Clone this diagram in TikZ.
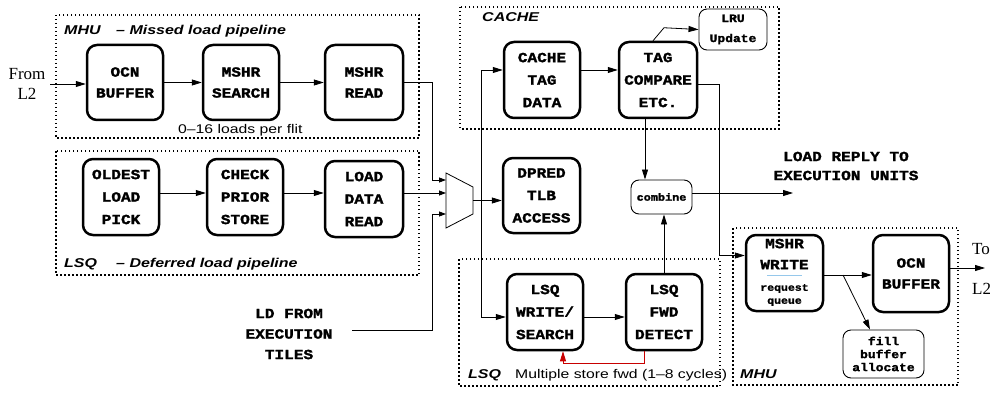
\documentclass[tikz,border=0pt]{standalone}
\usepackage{fontspec}
\setmainfont{Liberation Serif}
\newfontfamily\monob[FakeStretch=1.15,FakeBold=1.8]{Liberation Mono}
\newfontfamily\hsans[FakeStretch=1.25]{Liberation Sans}
\usetikzlibrary{arrows.meta}
\definecolor{fbred}{RGB}{200,0,0}
\definecolor{rulecol}{RGB}{150,200,235}
\begin{document}
\begin{tikzpicture}[x=1pt,y=-1pt,
  conn/.style={line width=0.8pt,-{Triangle[length=10pt,width=6pt]}},
  sconn/.style={line width=0.8pt,-{Triangle[length=7pt,width=5pt]}},
  bigbox/.style={draw,line width=2.5pt,rounded corners=10pt,minimum width=76pt,minimum height=75pt,inner sep=0pt,align=center},
  two/.style={font=\monob\bfseries\fontsize{14}{21}\selectfont,align=center},
  three/.style={font=\monob\bfseries\fontsize{14}{22.5}\selectfont,align=center},
  thinbox/.style={draw,line width=0.9pt,rounded corners=8pt,inner sep=0pt,align=center},
  dotbox/.style={draw,line width=1.5pt,dash pattern=on 1.5pt off 2.5pt},
  titletxt/.style={font=\hsans\bfseries\itshape\fontsize{12.8}{15}\selectfont,anchor=base west,inner sep=0pt},
  notetxt/.style={font=\hsans\fontsize{12.6}{15}\selectfont,anchor=base west,inner sep=0pt},
]
\useasboundingbox (0,0) rectangle (990,393);

% dotted frames
\draw[dotbox] (56,15) rectangle (419,138);
\draw[dotbox] (56,151) rectangle (419,275);
\draw[dotbox] (460,7) rectangle (779,129);
\draw[dotbox] (459,259) rectangle (720,386);
\draw[dotbox] (733,228) rectangle (958,385);

% titles and notes
\node[titletxt] (t1a) at (64,35) {MHU};
\node[titletxt] (t1b) at (116,35) {– Missed load pipeline};
\node[notetxt] (flit) at (178,133) {0–16 loads per flit};
\node[titletxt] (t2a) at (64,267) {LSQ};
\node[titletxt] (t2b) at (116,267) {– Deferred load pipeline};
\node[titletxt] (t3) at (482,22) {CACHE};
\node[titletxt] (t4) at (468,378) {LSQ};
\node[notetxt] (t4b) at (515,378) {Multiple store fwd (1–8 cycles)};
\node[titletxt] (t5) at (740,378) {MHU};

% big boxes
\node[bigbox,two] (ocn1) at (125,82.5) {OCN\\BUFFER};
\node[bigbox,two] (mshrs) at (241,82.5) {MSHR\\SEARCH};
\node[bigbox,two,minimum width=78pt] (mshrr) at (364,82.5) {MSHR\\READ};
\node[bigbox,three,minimum height=76pt] (oldest) at (121,197) {OLDEST\\LOAD\\PICK};
\node[bigbox,three,minimum height=76pt] (check) at (245,197) {CHECK\\PRIOR\\STORE};
\node[bigbox,three,minimum height=76pt,minimum width=78pt] (ldr) at (364,199) {LOAD\\DATA\\READ};
\node[bigbox,three,minimum height=76pt] (ctd) at (542,80) {CACHE\\TAG\\DATA};
\node[bigbox,three,minimum height=76pt,minimum width=78pt] (tagc) at (658,80) {TAG\\COMPARE\\ETC.};
\node[bigbox,three,minimum width=77pt] (dpred) at (541.5,195.5) {DPRED\\TLB\\ACCESS};
\node[bigbox,three,minimum height=76pt] (lsqw) at (545,312) {LSQ\\WRITE/\\SEARCH};
\node[bigbox,three,minimum height=76pt] (lsqf) at (664,312) {LSQ\\FWD\\DETECT};
\node[bigbox,minimum width=77pt,minimum height=76pt] (mshrw) at (784.5,273) {};
\node[two,inner sep=0pt] (mshrwt) at (784.5,254) {MSHR\\WRITE};
\draw[line width=1pt,rulecol] (767,275) -- (802,275);
\node[font=\monob\bfseries\fontsize{10}{13}\selectfont,align=center,inner sep=0pt] (rq) at (784.5,295) {request\\queue};
\node[bigbox,two,minimum height=77pt] (ocn2) at (911,273.5) {OCN\\BUFFER};

% thin boxes
\node[thinbox,minimum width=68pt,minimum height=41pt,font=\monob\bfseries\fontsize{11.3}{20}\selectfont] (lru) at (733,29.5) {LRU\\Update};
\node[thinbox,minimum width=61pt,minimum height=34pt,font=\monob\bfseries\fontsize{10.3}{12}\selectfont] (comb) at (661.5,197) {combine};
\node[thinbox,minimum width=81pt,minimum height=48pt,font=\monob\bfseries\fontsize{11.3}{13}\selectfont] (fill) at (883.5,354) {fill\\buffer\\allocate};

% free texts
\node[font=\fontsize{17}{19.5}\selectfont,align=center,inner sep=0pt] (froml2) at (27,84) {From\\L2};
\node[font=\fontsize{17}{40}\selectfont,align=left,anchor=west,inner sep=0pt] (tol2) at (972,269) {To\\L2};
\node[font=\monob\bfseries\fontsize{14}{20.5}\selectfont,align=center,inner sep=0pt] (ldtxt) at (289,334) {LD FROM\\EXECUTION\\TILES};
\node[font=\monob\bfseries\fontsize{14}{19}\selectfont,align=center,inner sep=0pt] (reply) at (846,166) {LOAD REPLY TO\\EXECUTION UNITS};

% mux
\draw[line width=0.8pt] (446,173) -- (473,187) -- (473,214) -- (446,228) -- cycle;
\coordinate (mux1) at (446,180);
\coordinate (mux2) at (446,193);
\coordinate (mux3) at (446,214);
\coordinate (muxout) at (473,200.5);
\coordinate (br) at (481,200.5);

% connectors
\coordinate (l2in) at (50,84);
\draw[conn] (l2in) -- (ocn1.west |- l2in);
\draw[conn] (ocn1.east) -- (mshrs.west);
\draw[conn] (mshrs.east) -- (mshrr.west);
\draw[sconn] (mshrr.east) -| (432,180) -- (mux1);
\draw[conn] (oldest.east |- 0,193) -- (check.west |- 0,193);
\draw[conn] (check.east |- 0,193) -- (ldr.west |- 0,193);
\draw[sconn] (ldr.east |- mux2) -- (mux2);
\coordinate (ldout) at (352,330);
\draw[sconn] (ldout) -| (432,214) -- (mux3);
\draw[conn] (muxout) -- (dpred.west |- muxout);
\draw[conn] (br) |- (ctd.west |- 0,70);
\draw[conn] (br) |- (lsqw.west |- 0,317);
\draw[conn] (ctd.east |- 0,70) -- (tagc.west |- 0,70);
\draw[conn] ([xshift=-5pt]tagc.north) -- ++(11,-13) -- (lru.west);
\draw[conn] (tagc.south -| 645,0) -- (comb.north -| 645,0);
\draw[conn] (tagc.east |- 0,84) -| (719,255.5) -- (mshrw.west |- 0,255.5);
\coordinate (replyend) at (793,193);
\draw[conn] (comb.east |- replyend) -- (replyend);
\draw[conn] (lsqf.north) -- (lsqf.north |- comb.south);
\draw[conn] (lsqw.east |- 0,317) -- (lsqf.west |- 0,317);
\draw[conn,fbred] (lsqf.south -| 644,0) -- (644,363) -| (lsqw.south -| 563,0);
\draw[conn] (mshrw.east |- 0,275) -- (ocn2.west |- 0,275);
\coordinate (fb) at (843,275);
\draw[conn] (fb) -- (fill.north -| 870,0);
\coordinate (tol2end) at (985,268);
\draw[conn] (ocn2.east |- tol2end) -- (tol2end);
\end{tikzpicture}
\end{document}
